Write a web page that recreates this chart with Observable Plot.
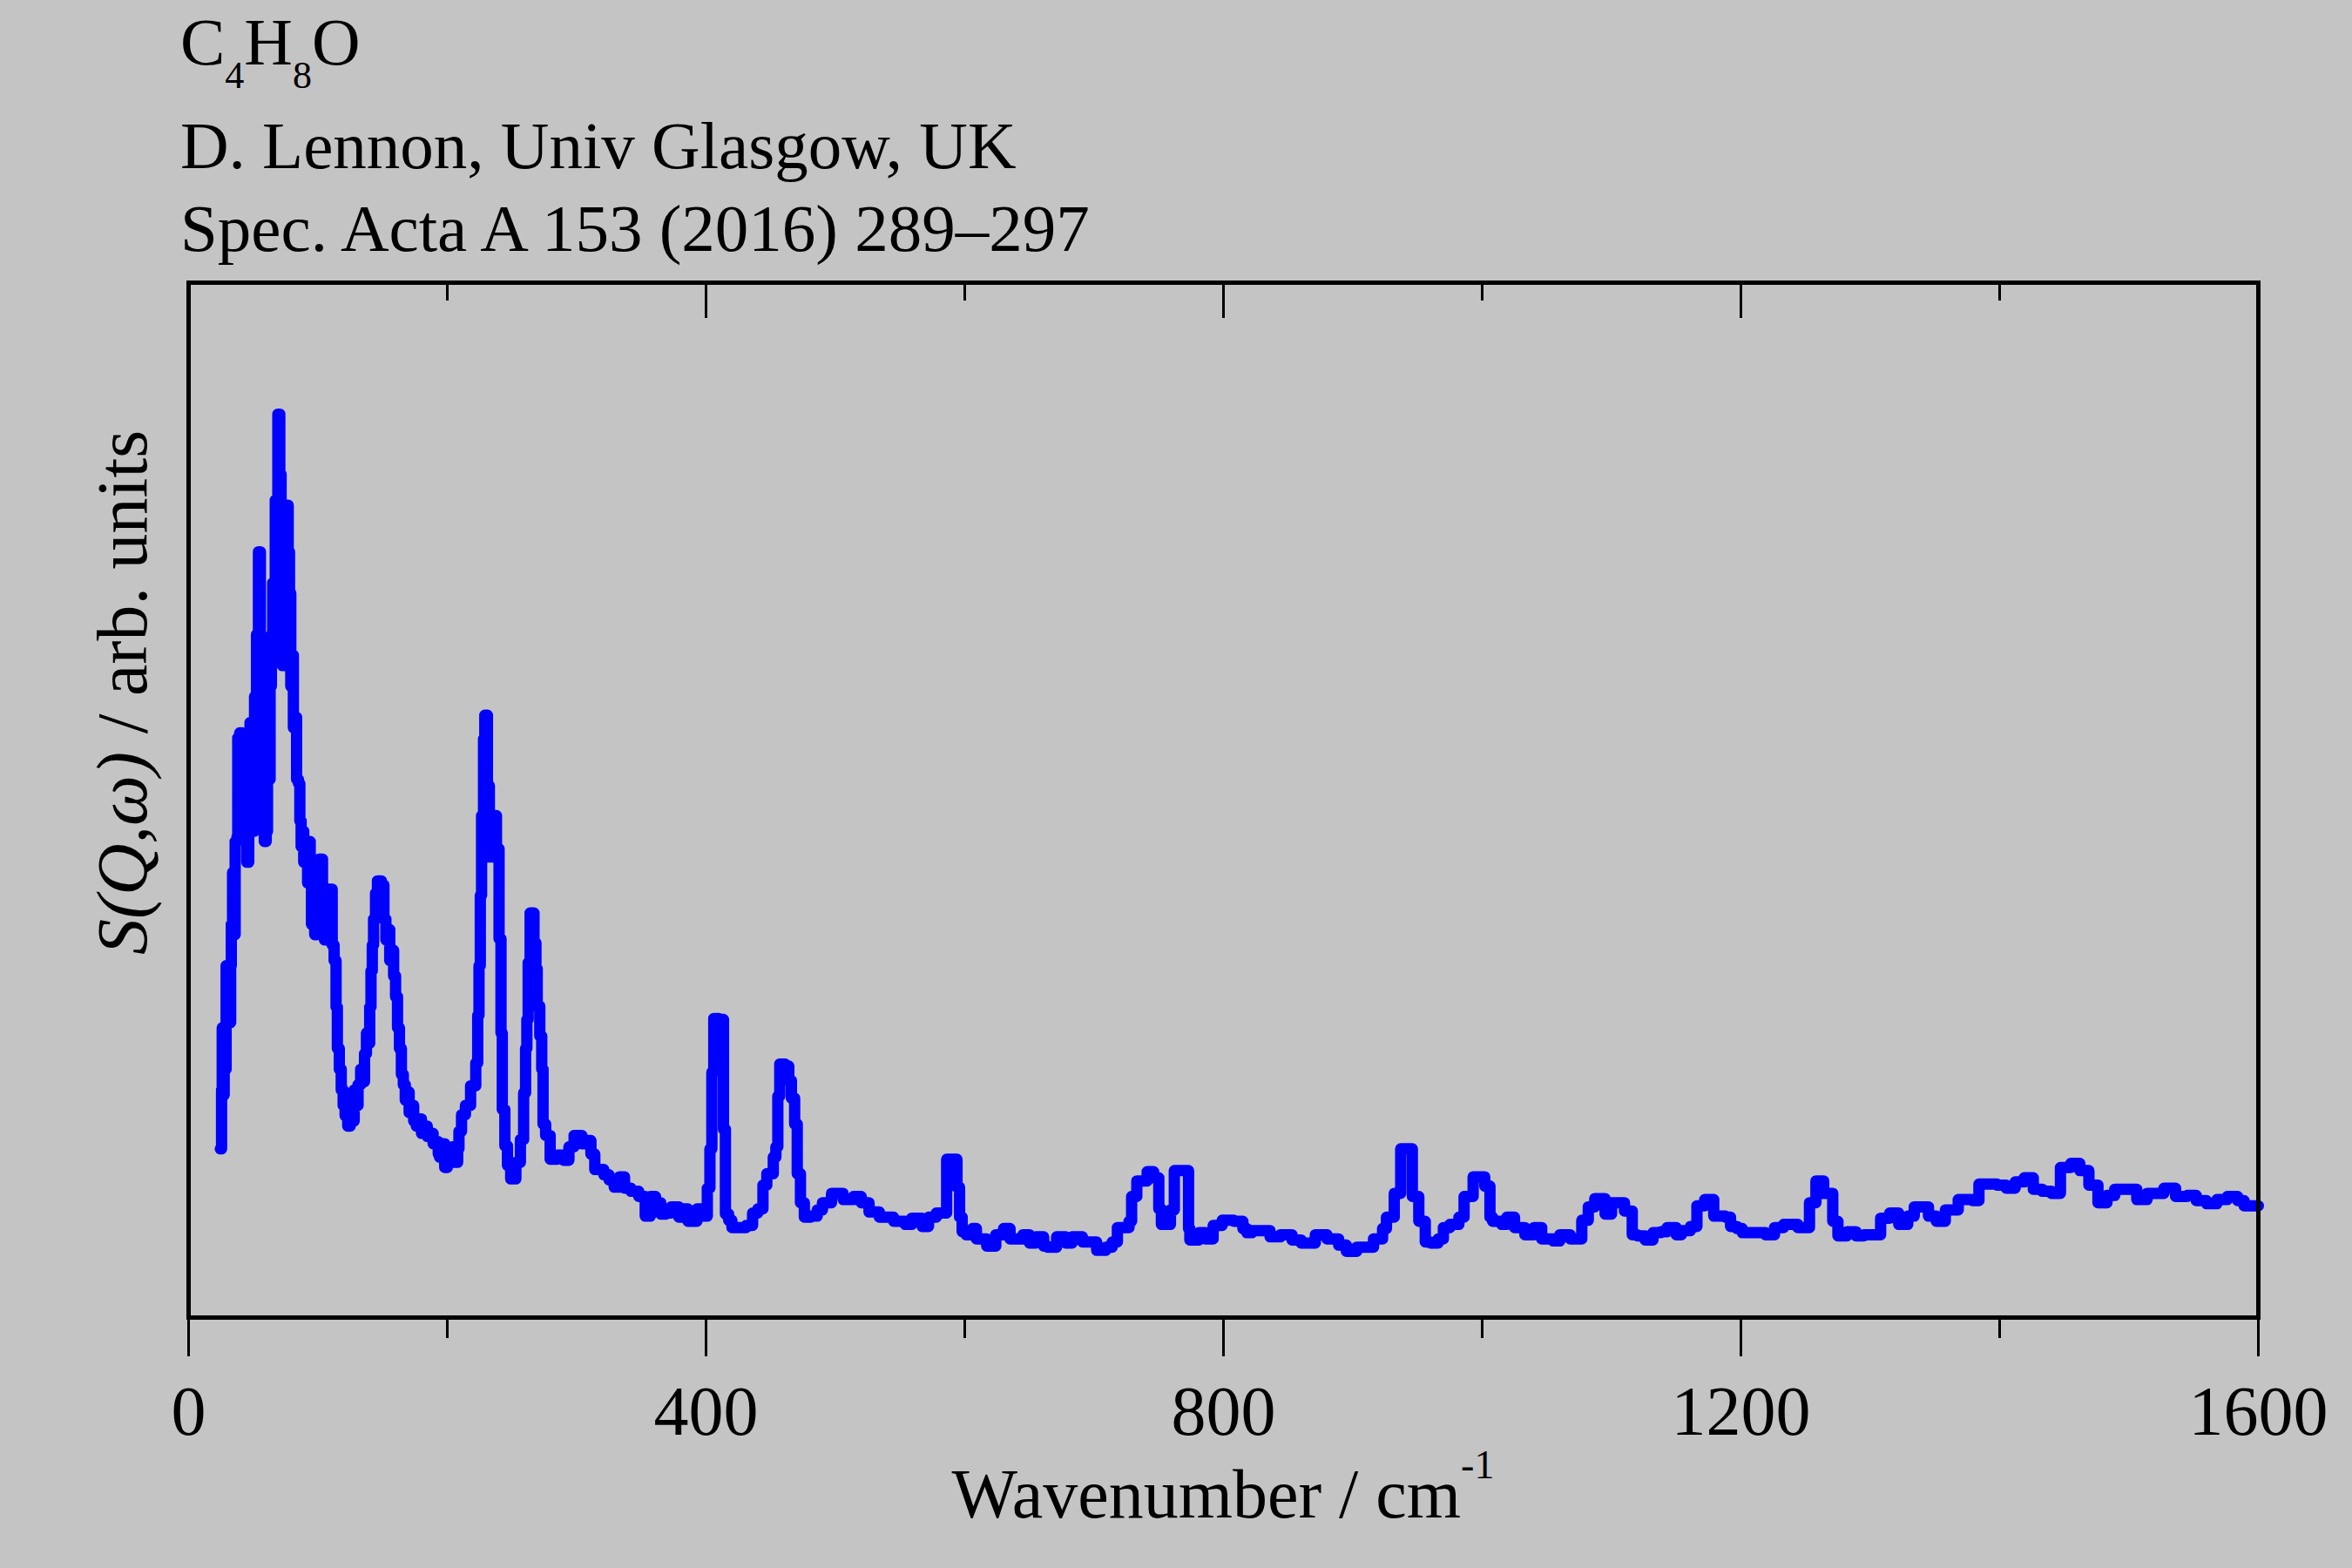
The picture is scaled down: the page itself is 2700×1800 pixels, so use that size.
<!DOCTYPE html>
<html>
<head>
<meta charset="utf-8">
<script src="https://cdn.jsdelivr.net/npm/d3@7"></script>
<script src="https://cdn.jsdelivr.net/npm/@observablehq/plot@0.6"></script>
<style>
  html, body { margin: 0; padding: 0; background: #c4c4c4; }
  #chart { width: 2700px; height: 1800px; }
</style>
</head>
<body>
<div id="chart"></div>
<script>
// ---- data ----
const wavenumber = [
  24.5,25.5,26,27,27.5,28.5,29,30.5,31.5,32.5,33,34,35.5,36,37.5,38,39.5,41.5,42.5,43.5,
  45,46.5,47.5,49,50,51,52.5,54,55.5,56.5,57.5,58.5,60,61,62,63,64,65,66,67,
  68,69,70.5,71.5,72.5,74,75,77,78,79,80,81,82.5,83.5,85,86,87,88,89,90.5,
  92,93,94,95,96.5,97.5,99,101,103.5,105,106.5,108,111,112.5,114,115,116.5,118,119.5,121,
  123,125,126.5,128,129.5,131,133,134.5,136,137.5,139,140,141,142,143,144.5,146,149,151,152.5,
  154,155.5,157,158.5,160,161.5,163,164.5,166,167.5,169,170.5,172,174,176,178,180,182,184.5,187,
  189,191,193,194,196,198,200,202,204,206,208,209,211,214,218,222,223.5,224.5,225.5,226.5,
  228,229,231,232.5,234,238,240,241.5,242.5,244.5,246.5,249,253,256.5,259,260.5,261.5,262.5,264,267,
  268.5,269.5,271.5,273,274,276,279.5,285,290,294,298,304,308,311,314,321,325,329,333,337,
  342,348,353,357,361,365,369,373,379,383,386,393,397,401,403,404.5,406,410,411.5,413.5,
  415,417.5,420,431,436,440,444,447,452,454,455.5,457,461,464,466,468.5,470.5,473,476,481,
  486,490,497,506,514,520,526,534,545,554,559,567,572,578,586,594,596,598,601,606,
  609,617,624,630,635,645,650,655,661,664,671,678,683,691,702,709,714,718,727,729,
  733,741,746,750,752,759,762,773,774,781,786,792,799,808,815,818,822,836,844,853,
  860,871,880,889,895,903,916,923,926,932,937,946,951,956,960,966,970,975,982,986,
  993,1002,1006,1008,1015,1019,1025,1033,1040,1046,1055,1060,1068,1077,1082,1087,1095,1100,1110,1116,
  1120,1126,1132,1138,1143,1150,1154,1161,1166,1172,1179,1188,1192,1197,1201,1219,1226,1233,1244,1253,
  1258,1264,1271,1275,1282,1289,1295,1308,1315,1322,1329,1334,1345,1351,1358,1368,1379,1384,1398,1405,
  1412,1419,1426,1433,1440,1447,1455,1462,1469,1476,1483,1489,1506,1514,1527,1536,1545,1552,1560,1568,
  1576,1584,1589,1600
];
const intensity = [
  16.3,22,28,21.5,25,24,34,33.5,28.5,34,38,43,37,46,46.5,56,56.5,55,49,51,
  44,52,57.5,54,47,60,66,74,62,55,63,46,47,55,52,61,66,71,68,79,
  76,87.3,81.5,72,63,68,78.5,74,70,61,64,57,58,52,51.6,48,45.5,47,44,45.8,
  42,46,42,38,39,37,38,44.3,38,36.5,40,41.4,36,34.5,30,26,24,22,20.5,19.5,
  18.5,20.5,19,22,20.5,22.5,24,22.8,25.5,27.5,26.5,30,33.5,36,38.5,41,42.2,41.8,38.5,36.5,
  37.5,34.5,35.5,33,31,28,26,23.5,22.5,21,21.8,19.8,20.5,19,18.5,19.2,17.8,18.5,17.5,17.8,
  16.8,17,15.8,15.5,16.8,14.5,16,15.8,16.5,15,16.3,18,19.6,20.5,22.4,24.6,29.2,34,40.8,48.5,
  55.9,58.2,51.4,44.5,48.5,45.3,36.6,27.5,20.1,16.6,14.7,13.4,15,17.2,21.7,26,28.8,34.3,39.1,36.2,
  33.7,30.1,27.2,24,18.7,17.6,15.3,15.7,15.2,16.5,17.6,16.8,17.1,15.8,14.3,13.8,13.3,12.6,13.6,12.5,
  12.2,11.7,9.8,11.7,11.1,10,10.1,10.7,9.7,10.5,9.3,10.5,9.8,12.5,16.3,23.7,28.9,28,28.8,18.2,
  10,9.4,8.7,8.9,10.1,10.5,12.8,13.9,15.5,16.5,21.4,24.5,24.3,22.9,21.2,18.7,13.9,11.1,9.7,9.8,
  10.4,11.1,12,11.4,11.7,11.1,10.2,9.7,9.3,9,9.6,8.8,9.7,10.1,15.3,12.6,9.7,8.3,8,8.6,
  7.6,6.9,8,8.6,7.6,8,7.2,7.8,6.9,6.8,7.8,7.2,7.8,7.3,6.5,6.8,7.3,8.7,9.3,11.7,
  13.2,14.1,13.5,10.5,9,10.4,14.2,8.6,7.5,8.2,7.6,8.9,9.4,9.3,8.6,8.2,8.4,7.8,8,7.5,
  7.2,8,7.6,7,6.4,6.8,7.6,8.6,9.7,12,16.3,11.7,9.3,7.3,7.2,7.6,8.7,9,9.7,11.7,
  13.6,12.7,9.7,9.3,9,9.7,8.7,8,8.7,7.6,7.4,8,7.6,9.4,10.7,11.5,10,11.1,10.3,8,
  7.9,7.5,8.2,8.3,8.7,8,8.4,8.8,10.8,11.4,9.8,9.7,8.8,8.6,8.2,8,8.7,9,8.7,11.1,
  13.2,12,9.3,7.9,8.3,7.9,8,9.6,10.1,9,9.8,10.7,9.8,9.3,10.4,11.4,11.3,12.9,12.8,12.5,
  13.1,13.5,12.4,12.2,12,14.5,14.9,14.2,12.8,11.1,11.8,12.4,11.4,12,12.5,11.7,11.8,11.3,11,11.4,
  11.7,11.3,10.8,10.8
];
const majorTicks = [0, 400, 800, 1200, 1600];
const minorTicks = [200, 600, 1000, 1400];
const topTicksMajor = [400, 800, 1200];
const topTicksMinor = [200, 600, 1000, 1400];
const xDomain = [0, 1600];
const yDomain = [0, 100];

const titleFormula = [["C", false], ["4", true], ["H", false], ["8", true], ["O", false]];
const titleLine2 = "D. Lennon, Univ Glasgow, UK";
const titleLine3 = "Spec. Acta A 153 (2016) 289\u2013297";
const xLabelMain = "Wavenumber / cm";
const xLabelSup = "-1";
const yLabelItalic = "S(Q,\u03c9)";
const yLabelRest = " / arb. units";

// ---- chart ----
const data = wavenumber.map((x, i) => ({x, y: intensity[i]}));
const W = 2700, H = 1800;
const mL = 216, mR = 108, mT = 324, mB = 288;
const innerH = H - mT - mB;
const font = "Liberation Serif, Times New Roman, serif";
const bg = "#c4c4c4";

const plot = Plot.plot({
  width: W, height: H,
  marginLeft: mL, marginRight: mR, marginTop: mT, marginBottom: mB,
  style: {background: bg, fontFamily: font, color: "#000", overflow: "visible"},
  x: {domain: xDomain},
  y: {domain: yDomain, axis: null},
  marks: [
    Plot.line(data, {x: "x", y: "y", curve: "step-after", stroke: "#0000ff",
      strokeWidth: 13, strokeLinejoin: "round", strokeLinecap: "round"}),
    Plot.ruleX(topTicksMinor, {x: d => d, insetBottom: innerH - 21, stroke: "#000", strokeWidth: 3}),
    Plot.ruleX(topTicksMajor, {x: d => d, insetBottom: innerH - 41, stroke: "#000", strokeWidth: 3}),
    Plot.axisX({anchor: "bottom", ticks: majorTicks, tickSize: 45, tickPadding: 33,
      fontSize: 80, strokeWidth: 3, tickFormat: d => String(d), label: null}),
    Plot.axisX({anchor: "bottom", ticks: minorTicks, tickSize: 24,
      strokeWidth: 3, tickFormat: () => "", label: null}),
    Plot.frame({stroke: "#000", strokeWidth: 5})
  ]
});

const svg = d3.select(plot);

function addText(x, y, size) {
  return svg.append("text").attr("x", x).attr("y", y)
    .attr("font-size", size).attr("fill", "#000")
    .attr("text-anchor", "start")
    .style("text-anchor", "start")
    .style("font-family", font);
}

// title block
const t1 = addText(207, 74, 77);
let prevSub = false;
titleFormula.forEach(([s, sub]) => {
  const ts = t1.append("tspan").text(s);
  if (sub && !prevSub) ts.attr("font-size", 44).attr("dy", 27);
  else if (!sub && prevSub) ts.attr("dy", -27);
  prevSub = sub;
});
addText(207, 193, 77).text(titleLine2);
addText(207, 288, 77).text(titleLine3);

// x label
const xl = addText((mL + W - mR) / 2, 1742, 80)
  .attr("text-anchor", "middle").style("text-anchor", "middle");
xl.append("tspan").text(xLabelMain);
xl.append("tspan").attr("font-size", 46).attr("dy", -45).text(xLabelSup);

// y label
const yl = svg.append("text").attr("transform", "translate(168,795) rotate(-90)")
  .attr("text-anchor", "middle").style("text-anchor", "middle")
  .attr("font-size", 82).attr("fill", "#000")
  .style("font-family", font);
yl.append("tspan").attr("font-style", "italic").text(yLabelItalic);
yl.append("tspan").text(yLabelRest);

document.getElementById("chart").appendChild(plot);
</script>
</body>
</html>
